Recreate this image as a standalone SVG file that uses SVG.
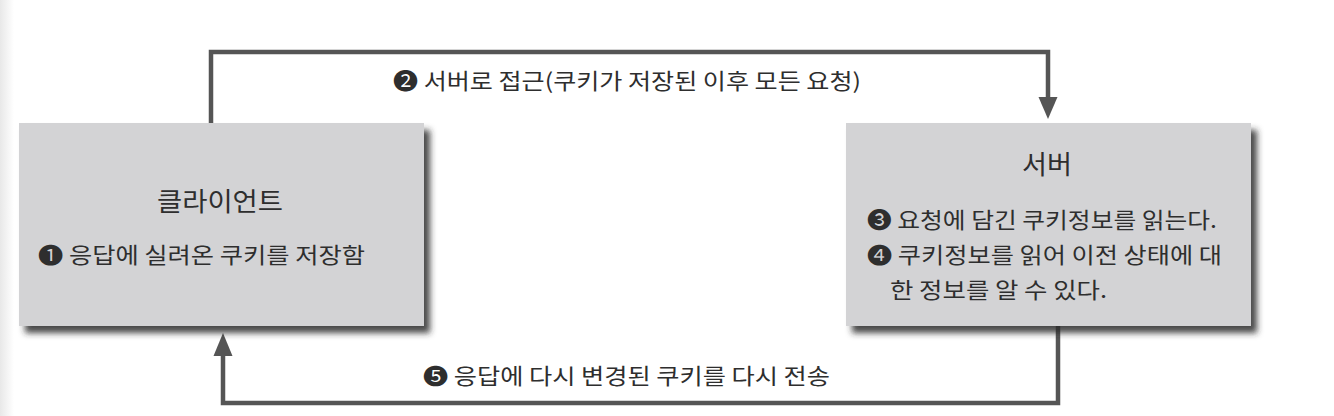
<svg xmlns="http://www.w3.org/2000/svg" width="1334" height="416" viewBox="0 0 1334 416">
<defs>
<linearGradient id="edge" x1="0" y1="0" x2="1" y2="0">
<stop offset="0" stop-color="#e8e8e8"/>
<stop offset="1" stop-color="#ffffff"/>
</linearGradient>
<filter id="shadow" x="-5%" y="-5%" width="115%" height="125%">
<feDropShadow dx="6" dy="7" stdDeviation="3" flood-color="#2a2a2a" flood-opacity="0.85"/>
</filter>
<style>
.box{fill:#d3d3d5;filter:url(#shadow);}
.line{fill:none;stroke:#555555;stroke-width:4.5;}
.head{fill:#555555;}
.t{font-family:"Noto Sans CJK KR","DejaVu Sans",sans-serif;fill:#2e2e2e;}
.title{font-size:26px;}
.body{font-size:21.5px;}
</style>
</defs>
<rect x="0" y="0" width="1334" height="416" fill="#ffffff"/>
<rect x="0" y="0" width="14" height="416" fill="url(#edge)"/>
<g id="connectors">
<path class="line" d="M211,124 V52 H1048 V100"/>
<polygon class="head" points="1038.5,97 1057.5,97 1048,119"/>
<path class="line" d="M1058,326 V403 H223 V352"/>
<polygon class="head" points="213.5,356 232.5,356 223,333"/>
<text class="t body" x="393" y="89" textLength="468" lengthAdjust="spacingAndGlyphs">❷ 서버로 접근(쿠키가 저장된 이후 모든 요청)</text>
<text class="t body" x="423" y="384" textLength="407" lengthAdjust="spacingAndGlyphs">❺ 응답에 다시 변경된 쿠키를 다시 전송</text>
</g>
<g id="client">
<rect class="box" x="19" y="123" width="405" height="203"/>
<text class="t title" x="157" y="211" textLength="126" lengthAdjust="spacingAndGlyphs">클라이언트</text>
<text class="t body" x="38" y="263" textLength="327" lengthAdjust="spacingAndGlyphs">❶ 응답에 실려온 쿠키를 저장함</text>
</g>
<g id="server">
<rect class="box" x="846" y="123" width="405" height="203"/>
<text class="t title" x="1022" y="174" textLength="50" lengthAdjust="spacingAndGlyphs">서버</text>
<text class="t body" x="867" y="228" textLength="350" lengthAdjust="spacingAndGlyphs">❸ 요청에 담긴 쿠키정보를 읽는다.</text>
<text class="t body" x="867" y="263" textLength="355" lengthAdjust="spacingAndGlyphs">❹ 쿠키정보를 읽어 이전 상태에 대</text>
<text class="t body" x="890" y="298" textLength="217" lengthAdjust="spacingAndGlyphs">한 정보를 알 수 있다.</text>
</g>
</svg>
